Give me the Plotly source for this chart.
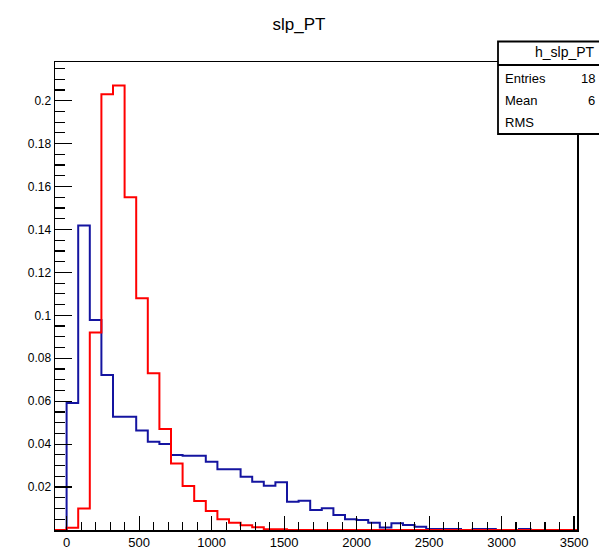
import plotly.graph_objects as go

# histogram bins: 45 bins of width 80 from -80 to 3520
bin_lo = -80
bin_width = 80
n_bins = 45
bin_edges = [bin_lo + i * bin_width for i in range(n_bins + 1)]

red_values = [0, 0.001, 0.010, 0.092, 0.203, 0.207, 0.155, 0.108, 0.073, 0.047,
              0.031, 0.0205, 0.0135, 0.0088, 0.005, 0.0034, 0.0022, 0.0013, 0.0004, 0.0003] + [0] * 25

blue_values = [0, 0.0592, 0.1418, 0.0978, 0.0722, 0.0528, 0.0528, 0.0463, 0.0411, 0.0401,
               0.0349, 0.0346, 0.0346, 0.0318, 0.0283, 0.0283, 0.0248, 0.0225, 0.0206, 0.0222,
               0.0132, 0.0136, 0.0093, 0.0101, 0.0070, 0.0050, 0.0047, 0.0034, 0.0012, 0.0031,
               0.0023, 0.0015, 0.0005, 0.0005, 0.0005, 0, 0.0005, 0.0005, 0, 0,
               0.0005, 0, 0, 0, 0]

x_tick_vals = [0, 500, 1000, 1500, 2000, 2500, 3000, 3500]
x_tick_text = ["0", "500", "1000", "1500", "2000", "2500", "3000", "3500"]
y_tick_vals = [0.02, 0.04, 0.06, 0.08, 0.10, 0.12, 0.14, 0.16, 0.18, 0.20]
y_tick_text = ["0.02", "0.04", "0.06", "0.08", "0.1", "0.12", "0.14", "0.16", "0.18", "0.2"]

title_text = "slp_PT"
stats_name = "h_slp_PT"
stats_labels = ["Entries", "Mean", "RMS"]
stats_values = ["18", "6", ""]

FONT = "Liberation Sans, Arial, sans-serif"

fig = go.Figure()
fig.add_trace(go.Scatter(x=bin_edges, y=blue_values + [blue_values[-1]], mode="lines",
                         line=dict(color="#1414a0", width=2, shape="hv"), showlegend=False,
                         hoverinfo="skip"))
fig.add_trace(go.Scatter(x=bin_edges, y=red_values + [red_values[-1]], mode="lines",
                         line=dict(color="#ff0000", width=2, shape="hv"), showlegend=False,
                         hoverinfo="skip"))

W, H = 599, 553
ml, mr, mt, mb = 55, 22, 62, 23

fig.update_layout(
    width=W, height=H,
    margin=dict(l=ml, r=mr, t=mt, b=mb, pad=0, autoexpand=False),
    paper_bgcolor="white", plot_bgcolor="white",
    title=dict(text=title_text, x=299 / W, xanchor="center", y=1 - 24 / H, yanchor="middle",
               yref="container", xref="container", automargin=False,
               font=dict(family=FONT, size=17, color="black")),
    font=dict(family=FONT, color="black"),
)

fig.update_xaxes(range=[bin_edges[0], bin_edges[-1]], showgrid=False, zeroline=False, automargin=False,
                 showline=True, mirror=True, linecolor="black", linewidth=1.5,
                 ticks="inside", ticklen=14, tickwidth=1.2, tickcolor="black",
                 tickvals=x_tick_vals, ticktext=x_tick_text,
                 tickfont=dict(family=FONT, size=13, color="black"),
                 minor=dict(ticks="inside", ticklen=8, tickwidth=1.2, tickcolor="black", dtick=100, tick0=0, showgrid=False))
fig.update_yaxes(range=[0, 0.218], showgrid=False, zeroline=False, automargin=False,
                 showline=True, mirror=True, linecolor="black", linewidth=1.5,
                 ticks="inside", ticklen=17, tickwidth=1.2, tickcolor="black",
                 tickvals=y_tick_vals, ticktext=y_tick_text,
                 tickfont=dict(family=FONT, size=12, color="black"),
                 minor=dict(ticks="inside", ticklen=10, tickwidth=1.2, tickcolor="black", dtick=0.005, tick0=0, showgrid=False))

# stats box (pixel -> paper helpers)
pw, ph = W - ml - mr, H - mt - mb
def px(x):
    return (x - ml) / pw
def py(y):
    return (H - mb - y) / ph

box_l, box_r, box_t, box_sep, box_b = 498, 640, 41.5, 65, 134
fig.add_shape(type="rect", xref="paper", yref="paper", x0=px(box_l), x1=px(box_r), y0=py(box_b), y1=py(box_t),
              line=dict(color="black", width=1.8), fillcolor="white", layer="above")
fig.add_shape(type="line", xref="paper", yref="paper", x0=px(box_l), x1=px(box_r), y0=py(box_sep), y1=py(box_sep),
              line=dict(color="black", width=1.8), layer="above")

fig.add_annotation(xref="paper", yref="paper", x=px(565), y=py(52), text=stats_name, showarrow=False,
                   xanchor="center", yanchor="middle", font=dict(family=FONT, size=14, color="black"))
row_y = [78, 100, 122]
for lab, val, yy in zip(stats_labels, stats_values, row_y):
    fig.add_annotation(xref="paper", yref="paper", x=px(503), y=py(yy), text=lab, showarrow=False,
                       xanchor="left", yanchor="middle", font=dict(family=FONT, size=13, color="black"))
    if val:
        fig.add_annotation(xref="paper", yref="paper", x=px(597), y=py(yy), text=val,
                           showarrow=False, xanchor="right", yanchor="middle",
                           font=dict(family=FONT, size=13, color="black"))

fig.write_html("out.html", config={"displayModeBar": False, "staticPlot": True},
               post_script="document.body.style.margin='0';document.body.style.overflow='hidden';")
